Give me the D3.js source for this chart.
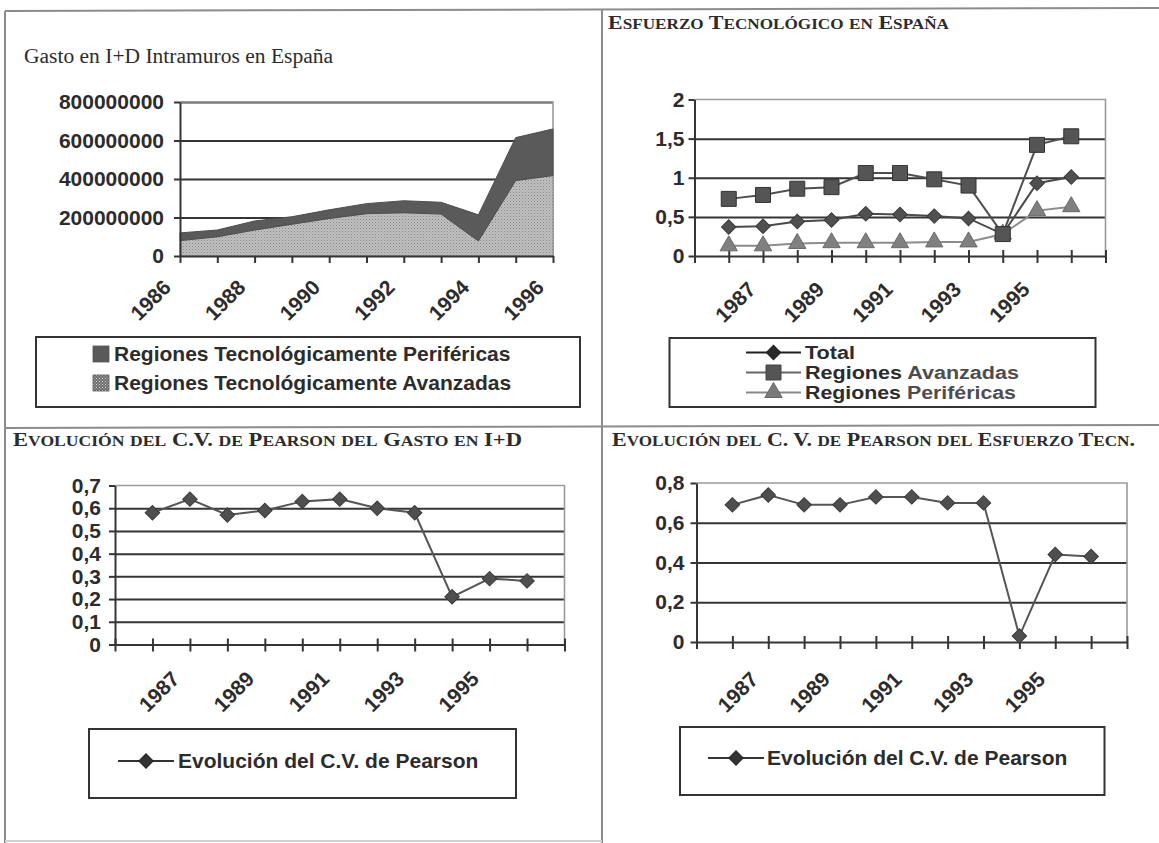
<!DOCTYPE html>
<html>
<head>
<meta charset="utf-8">
<script src="https://cdn.jsdelivr.net/npm/d3@7"></script>
<style>
  body { margin: 0; background: #ffffff; }
  svg { display: block; }
</style>
</head>
<body>
<svg id="page" width="1159" height="843"></svg>
<script>
// ---------------- data ----------------
// Gasto en I+D intramuros (pesetas)
const gastoYears = [1986, 1987, 1988, 1989, 1990, 1991, 1992, 1993, 1994, 1995, 1996];
const gastoAvanzadas = [80000000, 100000000, 135000000, 165000000, 195000000, 220000000, 225000000, 218000000, 78000000, 392000000, 418000000];
const gastoPerifericas = [40000000, 35000000, 47000000, 39000000, 45000000, 52000000, 62000000, 61000000, 136000000, 223000000, 242000000];
const gastoTicks = [0, 200000000, 400000000, 600000000, 800000000];
const gastoYearLabels = [1986, 1988, 1990, 1992, 1994, 1996];

// Esfuerzo tecnológico and coeficientes de variación
const lineYears = [1987, 1988, 1989, 1990, 1991, 1992, 1993, 1994, 1995, 1996, 1997];
const lineYearLabels = [1987, 1989, 1991, 1993, 1995];
const esfTotal = [0.37, 0.38, 0.44, 0.46, 0.54, 0.53, 0.51, 0.48, 0.28, 0.93, 1.01];
const esfAvanzadas = [0.73, 0.78, 0.86, 0.88, 1.06, 1.06, 0.98, 0.90, 0.28, 1.42, 1.53];
const esfPerifericas = [0.13, 0.13, 0.16, 0.17, 0.17, 0.17, 0.18, 0.18, 0.28, 0.58, 0.63];
const esfTicks = [0, 0.5, 1, 1.5, 2];

const cvGasto = [0.58, 0.64, 0.57, 0.59, 0.63, 0.64, 0.60, 0.58, 0.21, 0.29, 0.28];
const cvGastoTicks = [0, 0.1, 0.2, 0.3, 0.4, 0.5, 0.6, 0.7];

const cvEsfuerzo = [0.69, 0.74, 0.69, 0.69, 0.73, 0.73, 0.70, 0.70, 0.03, 0.44, 0.43];
const cvEsfuerzoTicks = [0, 0.2, 0.4, 0.6, 0.8];

// ---------------- styling ----------------
const INK = "#2c2c2c";
const GRID = "#353535";
const FRAME = "#8c8c8c";
const SANS = "'Liberation Sans', Arial, Helvetica, sans-serif";
const SERIF = "'Liberation Serif', 'Times New Roman', serif";

const es = d3.formatLocale({ decimal: ",", thousands: ".", grouping: [3], currency: ["", ""] });
const fmtDec = es.format(".1~f");
const fmtInt = d3.format("d");

const svg = d3.select("#page");
const defs = svg.append("defs");

// fine dotted fill of the lower area
const dots = defs.append("pattern").attr("id", "dotFill")
  .attr("width", 3).attr("height", 3).attr("patternUnits", "userSpaceOnUse");
dots.append("rect").attr("width", 3).attr("height", 3).attr("fill", "#c0c0c0");
dots.append("rect").attr("width", 1).attr("height", 1).attr("fill", "#878787");
dots.append("rect").attr("x", 1.5).attr("y", 1.5).attr("width", 1).attr("height", 1).attr("fill", "#999999");

const check = defs.append("pattern").attr("id", "checkFill")
  .attr("width", 3).attr("height", 3).attr("patternUnits", "userSpaceOnUse");
check.append("rect").attr("width", 3).attr("height", 3).attr("fill", "#6e6e6e");
check.append("rect").attr("width", 1).attr("height", 1).attr("fill", "#d8d8d8");
check.append("rect").attr("x", 1.5).attr("y", 1.5).attr("width", 1).attr("height", 1).attr("fill", "#bcbcbc");

// ---------------- page frame ----------------
const frame = svg.append("g").attr("stroke", FRAME).attr("stroke-width", 2).attr("fill", "none");
frame.append("line").attr("x1", 5).attr("y1", 11).attr("x2", 1159).attr("y2", 8);
frame.append("line").attr("x1", 5).attr("y1", 11).attr("x2", 5).attr("y2", 843);
frame.append("line").attr("x1", 602).attr("y1", 9).attr("x2", 602).attr("y2", 843);
frame.append("line").attr("x1", 5).attr("y1", 428).attr("x2", 1159).attr("y2", 425);
frame.append("line").attr("x1", 5).attr("y1", 841).attr("x2", 602).attr("y2", 841).attr("stroke", "#d0d0d0");

// ---------------- titles ----------------
svg.append("text")
  .attr("x", 24).attr("y", 63)
  .attr("font-family", SERIF).attr("font-size", 20).attr("fill", INK)
  .attr("textLength", 309).attr("lengthAdjust", "spacingAndGlyphs")
  .text("Gasto en I+D Intramuros en España");

// bold serif small caps: lowercase runs are set as reduced capitals
function smallCapsTitle(x, y, len, txt, size) {
  const t = svg.append("text")
    .attr("x", x).attr("y", y)
    .attr("font-family", SERIF).attr("font-weight", "bold")
    .attr("fill", INK)
    .attr("textLength", len).attr("lengthAdjust", "spacingAndGlyphs");
  const runs = txt.match(/[a-zñáéíóú]+|[^a-zñáéíóú]+/g);
  runs.forEach(r => {
    const lower = /[a-zñáéíóú]/.test(r[0]);
    t.append("tspan")
      .attr("font-size", lower ? size * 0.78 : size)
      .text(lower ? r.toUpperCase() : r);
  });
}
smallCapsTitle(608, 29, 341, "Esfuerzo Tecnológico en España", 18);
smallCapsTitle(13, 446, 509, "Evolución del C.V. de Pearson del Gasto en I+D", 19);
smallCapsTitle(612, 446, 523, "Evolución del C. V. de Pearson del Esfuerzo Tecn.", 19);

// ---------------- shared axis helpers ----------------
function styleText(sel, size) {
  sel.attr("font-family", SANS).attr("font-weight", "bold").attr("font-size", size).attr("fill", INK);
}

function drawGrid(g, y, x0, x1, values) {
  const grid = g.append("g").attr("transform", `translate(${x0},0)`)
    .call(d3.axisLeft(y).tickValues(values).tickSize(-(x1 - x0)).tickFormat(""));
  grid.select(".domain").remove();
  grid.selectAll("line").attr("stroke", GRID).attr("stroke-width", 2);
}

function drawValueAxis(g, y, x0, ticks, fmt, padding) {
  const ax = g.append("g").attr("transform", `translate(${x0},0)`)
    .call(d3.axisLeft(y).tickValues(ticks).tickFormat(fmt).tickSize(6).tickSizeOuter(0).tickPadding(padding));
  ax.select(".domain").attr("stroke", GRID).attr("stroke-width", 2);
  ax.selectAll(".tick line").attr("stroke", GRID).attr("stroke-width", 2);
  styleText(ax.selectAll("text"), 21);
}

function drawCategoryAxis(g, x, yBase, ticks, labels, up, dx, dy) {
  const ax = g.append("g").attr("transform", `translate(0,${yBase})`)
    .call(d3.axisBottom(x).tickValues(ticks).tickSize(7).tickSizeOuter(0)
      .tickFormat(d => labels.includes(d) ? String(d) : ""));
  ax.select(".domain").attr("stroke", GRID).attr("stroke-width", 2);
  ax.selectAll(".tick line").attr("stroke", GRID).attr("stroke-width", 2).attr("y1", -up);
  const t = ax.selectAll(".tick text");
  styleText(t, 21);
  t.attr("y", null).attr("dy", "0.35em").attr("text-anchor", "middle")
    .attr("transform", `translate(${dx},${dy}) rotate(-45)`);
}

function plotBorder(g, x0, x1, yTop, yBottom) {
  g.append("path")
    .attr("d", `M${x0},${yTop}H${x1}V${yBottom}`)
    .attr("fill", "none").attr("stroke", "#9a9a9a").attr("stroke-width", 1.6);
}

// ---------------- chart 1: stacked area ----------------
(function () {
  const x0 = 180, x1 = 553, yTop = 102, yBottom = 256;
  const g = svg.append("g");
  const x = d3.scaleLinear().domain([gastoYears[0], gastoYears[gastoYears.length - 1]]).range([x0, x1]);
  const y = d3.scaleLinear().domain([0, gastoTicks[gastoTicks.length - 1]]).range([yBottom, yTop]);

  drawGrid(g, y, x0, x1, gastoTicks.slice(1));
  plotBorder(g, x0, x1, yTop, yBottom);

  const table = gastoYears.map((yr, i) => ({ year: yr, avanzadas: gastoAvanzadas[i], perifericas: gastoPerifericas[i] }));
  const stacked = d3.stack().keys(["avanzadas", "perifericas"])(table);
  const area = d3.area().x(d => x(d.data.year)).y0(d => y(d[0])).y1(d => y(d[1]));
  const fills = { avanzadas: "url(#dotFill)", perifericas: "#5a5a5a" };
  g.selectAll("path.layer").data(stacked).join("path")
    .attr("class", "layer")
    .attr("d", area)
    .attr("fill", d => fills[d.key])
    .attr("stroke", d => d.key === "perifericas" ? "#4e4e4e" : "#8e8e8e")
    .attr("stroke-width", 1);

  drawValueAxis(g, y, x0, gastoTicks, fmtInt, 10);
  drawCategoryAxis(g, x, yBottom, gastoYears, gastoYearLabels, 0, -30, 44);

  // legend
  const lg = svg.append("g");
  lg.append("rect").attr("x", 36).attr("y", 337).attr("width", 544).attr("height", 70)
    .attr("fill", "none").attr("stroke", "#333").attr("stroke-width", 2);
  const items = [
    { label: "Regiones Tecnológicamente Periféricas", fill: "#5a5a5a", cy: 354 },
    { label: "Regiones Tecnológicamente Avanzadas", fill: "url(#checkFill)", cy: 383 }
  ];
  items.forEach(it => {
    lg.append("rect").attr("x", 93).attr("y", it.cy - 8).attr("width", 16).attr("height", 16)
      .attr("fill", it.fill).attr("stroke", "#555").attr("stroke-width", 0.8);
    styleText(lg.append("text").attr("x", 114).attr("y", it.cy).attr("dy", "0.35em").text(it.label), 21);
  });
})();

// ---------------- line chart helper ----------------
const markerShapes = {
  diamond: { type: d3.symbolSquare, size: 105, rotate: 45 },
  square: { type: d3.symbolSquare, size: 225, rotate: 0 },
  triangle: { type: d3.symbolTriangle, size: 130, rotate: 0 }
};

function drawMarkers(g, pts, shape, fill, stroke) {
  const m = markerShapes[shape];
  const sym = d3.symbol().type(m.type).size(m.size);
  g.selectAll(null).data(pts).join("path")
    .attr("d", sym)
    .attr("transform", d => `translate(${d[0]},${d[1]}) rotate(${m.rotate})`)
    .attr("fill", fill).attr("stroke", stroke).attr("stroke-width", 1);
}

function drawLineChart(o) {
  const g = svg.append("g");
  const x = d3.scaleLinear().domain([lineYears[0] - 1, lineYears[lineYears.length - 1] + 1]).range([o.x0, o.x1]);
  const y = d3.scaleLinear().domain([0, o.ticks[o.ticks.length - 1]]).range([o.yBottom, o.yTop]);
  const tickYears = d3.range(lineYears[0] - 1, lineYears[lineYears.length - 1] + 2);

  drawGrid(g, y, o.x0, o.x1, o.ticks.slice(1, -1));
  plotBorder(g, o.x0, o.x1, o.yTop, o.yBottom);
  drawValueAxis(g, y, o.x0, o.ticks, fmtDec, o.padding);
  drawCategoryAxis(g, x, o.yBottom, tickYears, lineYearLabels, 6, o.labelDx, o.labelDy);

  const line = d3.line();
  o.series.forEach(s => {
    const pts = lineYears.map((yr, i) => [x(yr), y(s.values[i])]);
    g.append("path").attr("d", line(pts)).attr("fill", "none")
      .attr("stroke", s.line).attr("stroke-width", 2);
    s.pts = pts;
  });
  o.series.forEach(s => drawMarkers(g, s.pts, s.shape, s.fill, s.stroke));
}

function legendLine(g, xa, xb, cy, shape, lineColor, fill, stroke) {
  g.append("line").attr("x1", xa).attr("x2", xb).attr("y1", cy).attr("y2", cy)
    .attr("stroke", lineColor).attr("stroke-width", 2);
  drawMarkers(g, [[(xa + xb) / 2, cy]], shape, fill, stroke);
}

// ---------------- chart 2: esfuerzo tecnológico ----------------
drawLineChart({
  x0: 694.5, x1: 1105.5, yTop: 99.5, yBottom: 256, ticks: esfTicks, padding: 4,
  labelDx: 6, labelDy: 46,
  series: [
    { values: esfPerifericas, shape: "triangle", line: "#8c8c8c", fill: "#808080", stroke: "#6a6a6a" },
    { values: esfTotal, shape: "diamond", line: "#4a4a4a", fill: "#505050", stroke: "#3a3a3a" },
    { values: esfAvanzadas, shape: "square", line: "#4f4f4f", fill: "#555555", stroke: "#333333" }
  ]
});
(function () {
  const lg = svg.append("g");
  lg.append("rect").attr("x", 669.5).attr("y", 338).attr("width", 426).attr("height", 69)
    .attr("fill", "none").attr("stroke", "#333").attr("stroke-width", 2);
  const items = [
    { a: "Total", b: "", cy: 352.5, len: 50, shape: "diamond", line: "#222", fill: "#2a2a2a", stroke: "#222" },
    { a: "Regiones ", b: "Avanzadas", cy: 372.5, len: 214, shape: "square", line: "#666", fill: "#555", stroke: "#444" },
    { a: "Regiones ", b: "Periféricas", cy: 392.5, len: 211, shape: "triangle", line: "#888", fill: "#7a7a7a", stroke: "#666" }
  ];
  items.forEach(it => {
    legendLine(lg, 746, 801, it.cy, it.shape, it.line, it.fill, it.stroke);
    const t = lg.append("text").attr("x", 805).attr("y", it.cy).attr("dy", "0.35em")
      .attr("textLength", it.len).attr("lengthAdjust", "spacingAndGlyphs");
    styleText(t, 17.5);
    t.append("tspan").text(it.a);
    if (it.b) t.append("tspan").attr("fill", "#4d4d4d").text(it.b);
  });
})();

// ---------------- chart 3: C.V. del gasto ----------------
drawLineChart({
  x0: 115, x1: 564.5, yTop: 485.5, yBottom: 644.5, ticks: cvGastoTicks, padding: 8,
  labelDx: 6, labelDy: 47,
  series: [{ values: cvGasto, shape: "diamond", line: "#555", fill: "#4f4f4f", stroke: "#3a3a3a" }]
});
(function () {
  const lg = svg.append("g");
  lg.append("rect").attr("x", 89).attr("y", 729).attr("width", 427).attr("height", 69)
    .attr("fill", "none").attr("stroke", "#333").attr("stroke-width", 2);
  legendLine(lg, 118, 174, 761, "diamond", "#333", "#333", "#222");
  styleText(lg.append("text").attr("x", 178).attr("y", 761).attr("dy", "0.35em").text("Evolución del C.V. de Pearson"), 21);
})();

// ---------------- chart 4: C.V. del esfuerzo ----------------
drawLineChart({
  x0: 696.5, x1: 1127, yTop: 483, yBottom: 642, ticks: cvEsfuerzoTicks, padding: 6,
  labelDx: 5, labelDy: 50,
  series: [{ values: cvEsfuerzo, shape: "diamond", line: "#555", fill: "#4f4f4f", stroke: "#3a3a3a" }]
});
(function () {
  const lg = svg.append("g");
  lg.append("rect").attr("x", 680).attr("y", 727).attr("width", 424.5).attr("height", 68)
    .attr("fill", "none").attr("stroke", "#333").attr("stroke-width", 2);
  legendLine(lg, 708, 764, 758, "diamond", "#333", "#333", "#222");
  styleText(lg.append("text").attr("x", 767).attr("y", 758).attr("dy", "0.35em").text("Evolución del C.V. de Pearson"), 21);
})();
</script>
</body>
</html>
